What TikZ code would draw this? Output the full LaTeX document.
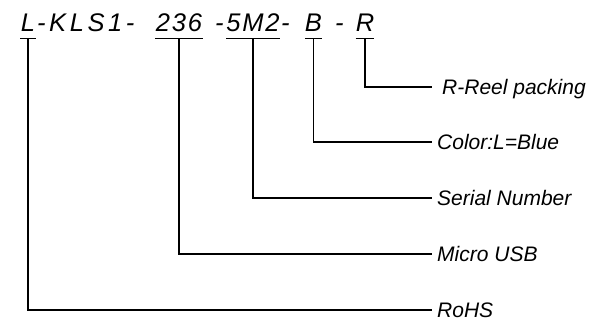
\documentclass[tikz,border=0pt]{standalone}
\usepackage{fontspec}
\setmainfont{Liberation Sans}
\newfontfamily\codefont[LetterSpace=7.0]{Liberation Sans}
\newfontfamily\widecodefont[LetterSpace=14.0]{Liberation Sans}

\begin{document}
\begin{tikzpicture}[x=1pt,y=-1pt,
  code/.style={inner xsep=0pt,inner ysep=6pt,text depth=0pt,anchor=base,
    font=\codefont\itshape\fontsize{25.5}{25.5}\selectfont},
  sep/.style={code,anchor=base west},
  desc/.style={anchor=west,inner xsep=5pt,text height=15pt,text depth=0pt,
    font=\itshape\fontsize{21}{21}\selectfont}]
\useasboundingbox (0,0) rectangle (611,323);
\node[code,minimum width=15pt] (l) at (28,32){L};
\node[sep,font=\widecodefont\itshape\fontsize{25.5}{25.5}\selectfont] (kls) at (37,32){-KLS1-};
\node[code,minimum width=48pt] (ser) at (179,32){236};
\node[sep] (d1) at (215,32){-};
\node[code,minimum width=50pt] (sn) at (253,32){5M2};
\node[sep] (d2) at (281,32){-};
\node[code,minimum width=17pt] (col) at (313.5,32){B};
\node[sep] (d3) at (335,32){-};
\node[code,minimum width=16pt] (pk) at (365,32){R};
\node[desc,inner xsep=10pt] (reel) at (432,87){R-Reel packing};
\node[desc] (blue) at (432,142){Color:L=Blue};
\node[desc] (number) at (432,198){Serial Number};
\node[desc] (usb) at (432,254){Micro USB};
\node[desc] (rohs) at (432,310){RoHS};
\foreach \n in {l,ser,sn,col,pk}
  \draw[line width=1.2pt] (\n.south west) -- (\n.south east);
\foreach \from/\to in {pk/reel,col/blue,sn/number,ser/usb,l/rohs}
  \draw[line width=1.5pt] (\from.south) |- (\to.west);
\end{tikzpicture}
\end{document}
